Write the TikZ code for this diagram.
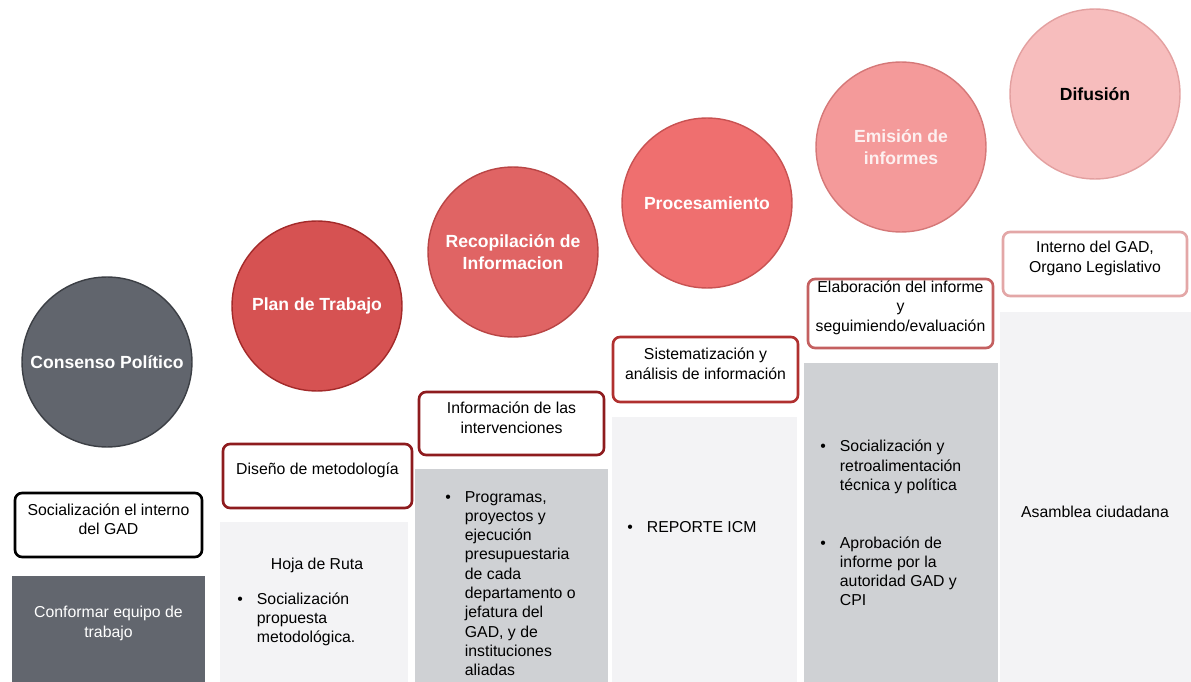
\documentclass[tikz,border=0pt]{standalone}
\usepackage{fontspec}
\setmainfont{Liberation Sans}
\usetikzlibrary{fit}
\definecolor{cgray}{HTML}{61656D}
\definecolor{cgrayd}{HTML}{3C3F45}
\definecolor{cplan}{HTML}{D65252}
\definecolor{cpland}{HTML}{A32A2A}
\definecolor{crec}{HTML}{E06464}
\definecolor{crecd}{HTML}{B94545}
\definecolor{cproc}{HTML}{EF6F6F}
\definecolor{cprocd}{HTML}{C85252}
\definecolor{cemi}{HTML}{F49A9A}
\definecolor{cemid}{HTML}{D57878}
\definecolor{cdif}{HTML}{F7BDBD}
\definecolor{cdifd}{HTML}{E3A0A0}
\definecolor{cdark}{HTML}{62666E}
\definecolor{cdeep}{HTML}{8E1B1E}
\definecolor{cmid}{HTML}{B0302F}
\definecolor{crose}{HTML}{C46060}
\definecolor{cpink}{HTML}{E3A7A7}
\definecolor{cpanel}{HTML}{CFD1D4}
\definecolor{clight}{HTML}{F3F3F5}
\definecolor{cwhite}{HTML}{FDF0F0}
\newcommand{\bul}[1]{\textbullet\hspace{8pt}\begin{tabular}[t]{@{}l@{}}#1\end{tabular}}

\begin{document}
\begin{tikzpicture}[x=0.02cm,y=-0.02cm,
  every node/.style={font=\fontsize{9}{11}\selectfont},
  stage/.style={circle,line width=0.8pt,minimum size=3.4cm,inner sep=0pt,align=center,
    font=\bfseries\fontsize{10}{12.5}\selectfont},
  taskbox/.style={draw,fill=white,rounded corners=4pt,line width=1.5pt,inner sep=0pt,align=center},
  panel/.style={inner sep=0pt,align=center},
  itemtxt/.style={anchor=base west,inner sep=0pt}]
  \useasboundingbox (0,0) rectangle (1191,682);
  % columns below the boxes
  \node[panel,fill=cdark,text=white,fit={(12,576)(205,682)}] (equipo) {Conformar equipo de\\trabajo};
  \foreach \n/\xa/\ya/\xb/\yb/\fc in {2/220/522/408/682/clight,3/415/469/608/682/cpanel,
      4/612/417/797/682/clight,5/804/363/998/682/cpanel,6/1000/312/1191/682/clight} {
    \node[panel,fill=\fc,fit={(\xa,\ya)(\xb,\yb)}] (p\n) {};
  }
  % stages
  \foreach \n/\cx/\cy/\fc/\dc/\tc/\txt in {
      1/107/362/cgray/cgrayd/white/{Consenso Político},
      2/317/306/cplan/cpland/white/{Plan de Trabajo},
      3/513/252/crec/crecd/white/{Recopilación de\\Informacion},
      4/707/203/cproc/cprocd/white/{Procesamiento},
      5/901/147/cemi/cemid/cwhite/{Emisión de\\informes},
      6/1095/94/cdif/cdifd/black/{Difusión}} {
    \node[stage,fill=\fc,draw=\dc,text=\tc] (s\n) at (\cx,\cy) {\txt};
  }
  % tasks
  \foreach \n/\xa/\ya/\xb/\yb/\dc/\txt in {
      1/15/493/202/557/black/{Socialización el interno\\del GAD},
      2/223/444/412/508/cdeep/{Diseño de metodología},
      3/419/392/604/455/cdeep/{Información de las\\intervenciones},
      4/613/337/798/402/cmid/{Sistematización y\\análisis de información},
      5/808/279/993/348/crose/{Elaboración del informe\\y\\seguimiendo/evaluación},
      6/1003/232/1187/296/cpink/{Interno del GAD,\\Organo Legislativo}} {
    \node[taskbox,draw=\dc,fit={(\xa,\ya)(\xb,\yb)}] (t\n) {\txt};
  }
  % products
  \node (hoja) at (317,565) {Hoja de Ruta};
  \node[itemtxt] (i2) at (237,604) {\bul{Socialización\\propuesta\\metodológica.}};
  \node[itemtxt] (i3) at (445,502) {\bul{Programas,\\proyectos y\\ejecución\\presupuestaria\\de cada\\departamento o\\jefatura del\\GAD, y de\\instituciones\\aliadas}};
  \node[itemtxt] (i4) at (627,532) {\bul{REPORTE ICM}};
  \node[itemtxt] (i5a) at (820,452) {\bul{Socialización y\\retroalimentación\\técnica y política}};
  \node[itemtxt] (i5b) at (820,548) {\bul{Aprobación de\\informe por la\\autoridad GAD y\\CPI}};
  \node (asamblea) at (1095,512) {Asamblea ciudadana};
\end{tikzpicture}
\end{document}
